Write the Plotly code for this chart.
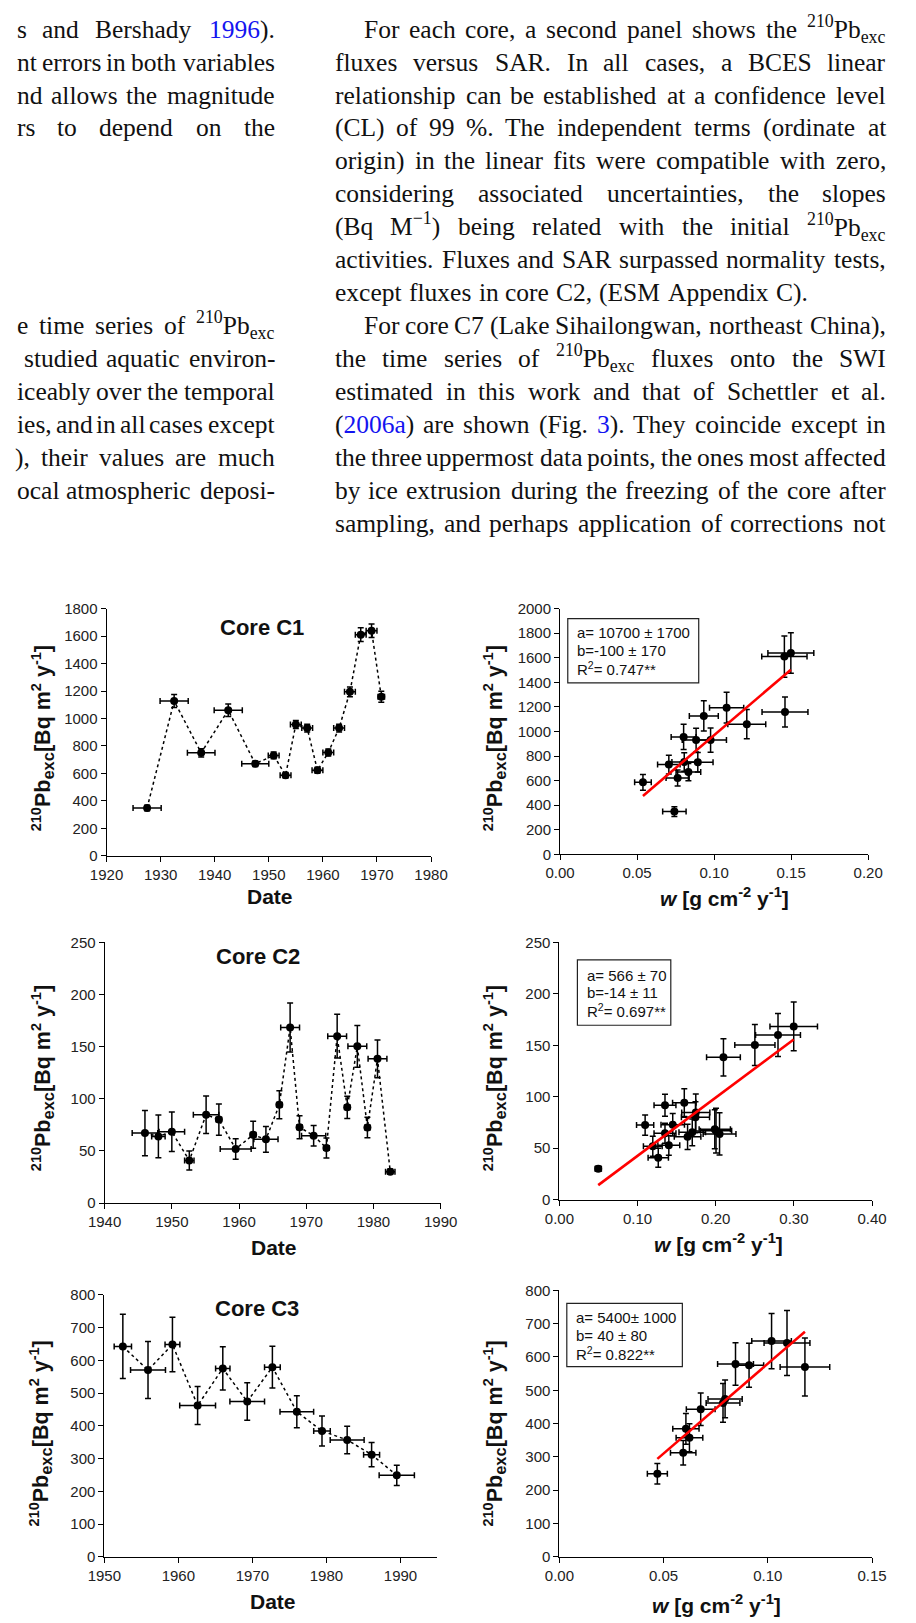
import re
import plotly.graph_objects as go

# ---------------- data ----------------
# Core C1
c1_year = [1927.5, 1932.5, 1937.5, 1942.5, 1947.5, 1950.9, 1953.1, 1955.0, 1957.1, 1959.0, 1961.0, 1963.0, 1965.0, 1967.0, 1969.0, 1970.8]
c1_year_err = [2.6, 2.6, 2.55, 2.6, 2.5, 1.0, 1.0, 1.0, 1.0, 1.0, 1.0, 1.0, 1.0, 1.0, 1.0, 0.6]
c1_flux = [348, 1127, 750, 1060, 670, 731, 586, 956, 930, 622, 752, 930, 1194, 1610, 1639, 1158]
c1_flux_err = [20, 48, 30, 45, 20, 25, 20, 30, 28, 22, 25, 28, 35, 50, 50, 40]
c1_w = [0.0742, 0.0933, 0.0894, 0.1212, 0.0833, 0.0706, 0.0538, 0.0802, 0.0883, 0.0763, 0.0806, 0.0977, 0.1081, 0.1456, 0.1498, 0.1460]
c1_w_err = [0.0076, 0.0094, 0.0099, 0.0123, 0.0080, 0.0073, 0.0054, 0.0081, 0.0090, 0.0075, 0.0080, 0.0103, 0.0111, 0.0147, 0.0149, 0.0149]
c1_flux_err_w = [40, 123, 80, 120, 70, 76, 64, 102, 97, 65, 75, 98, 125, 168, 165, 122]
c1_fit = (10700, -100)
c1_fit_text = ["a= 10700 ± 1700", "b=-100 ± 170", "R<sup>2</sup>= 0.747**"]

# Core C2
c2_year = [1946.0, 1948.0, 1950.0, 1952.6, 1955.1, 1957.0, 1959.5, 1962.1, 1964.0, 1966.0, 1967.6, 1969.0, 1971.1, 1973.0, 1974.6, 1976.1, 1977.6, 1979.1, 1980.6, 1982.5]
c2_year_err = [1.9, 1.0, 1.9, 0.7, 1.9, 0.4, 2.3, 0.4, 1.8, 0.4, 1.4, 0.4, 1.8, 0.4, 1.4, 0.4, 1.4, 0.4, 1.4, 0.7]
c2_flux = [67.1, 63.9, 68.4, 40.8, 84.8, 80.1, 51.9, 65.5, 61.1, 94.3, 168.4, 72.8, 64.6, 52.8, 160.1, 91.8, 150.3, 72.5, 138.3, 30.1]
c2_flux_err = [21.8, 20.5, 19.0, 9.2, 18.0, 15.0, 9.8, 13.0, 12.3, 13.5, 23.6, 11.0, 9.8, 9.5, 20.9, 10.6, 20.0, 9.8, 18.0, 2.5]
c2_w = [0.2004, 0.2049, 0.1988, 0.1265, 0.1745, 0.1741, 0.1195, 0.1700, 0.1640, 0.1598, 0.2998, 0.1450, 0.1351, 0.1400, 0.2797, 0.1351, 0.2501, 0.1097, 0.2099, 0.0497]
c2_w_err = [0.020, 0.021, 0.020, 0.013, 0.018, 0.018, 0.012, 0.017, 0.017, 0.015, 0.0304, 0.015, 0.014, 0.014, 0.0287, 0.014, 0.0257, 0.011, 0.0216, 0.004]
c2_fit = (566, -14)
c2_fit_text = ["a= 566 ± 70", "b=-14 ± 11", "R<sup>2</sup>= 0.697**"]

# Core C3
c3_year = [1952.5, 1955.9, 1959.2, 1962.6, 1966.0, 1969.3, 1972.7, 1976.0, 1979.4, 1982.8, 1986.1, 1989.5]
c3_year_err = [1.17, 2.36, 1.0, 2.42, 0.97, 2.34, 1.06, 2.27, 1.12, 2.29, 1.08, 2.38]
c3_flux = [642, 570, 648, 462, 575, 474, 579, 443, 384, 357, 312, 249]
c3_flux_err = [98, 87, 83, 58, 66, 57, 64, 49, 46, 42, 37, 31]
c3_w = [0.1092, 0.1178, 0.1018, 0.0785, 0.0910, 0.0795, 0.0845, 0.0678, 0.0607, 0.0624, 0.0594, 0.0470]
c3_w_err = [0.011, 0.0119, 0.0095, 0.0081, 0.0070, 0.0082, 0.0086, 0.0069, 0.0063, 0.0064, 0.0061, 0.0048]
c3_fit = (5400, 40)
c3_fit_text = ["a= 5400± 1000", "b= 40 ± 80", "R<sup>2</sup>= 0.822**"]

core_titles = ["Core C1", "Core C2", "Core C3"]
ts_xrange = [[1920, 1980], [1940, 1990], [1950, 1995]]
ts_yrange = [[0, 1800], [0, 250], [0, 800]]
ts_ydtick = [200, 50, 100]
sc_xrange = [[0, 0.20], [0, 0.40], [0, 0.15]]
sc_xdtick = [0.05, 0.10, 0.05]
sc_yrange = [[0, 2000], [0, 250], [0, 800]]
sc_ydtick = [200, 50, 100]

left_lines = [
    (0, 0, "s and Bershady {1996})."),
    (1, 0, "nt errors in both variables"),
    (2, 0, "nd allows the magnitude"),
    (3, 0, "rs to depend on the"),
    (9, 0, "e time series of <sup>210</sup>Pb<sub>exc</sub>"),
    (10, 7, "studied aquatic environ-"),
    (11, 0, "iceably over the temporal"),
    (12, 0, "ies, and in all cases except"),
    (13, -2, "), their values are much"),
    (14, 0, "ocal atmospheric deposi-"),
]
right_lines = [
    (360, True, "For each core, a second panel shows the <sup>210</sup>Pb<sub>exc</sub>"),
    (330, True, "fluxes versus SAR. In all cases, a BCES linear"),
    (330, True, "relationship can be established at a confidence level"),
    (330, True, "(CL) of 99 %. The independent terms (ordinate at"),
    (330, True, "origin) in the linear fits were compatible with zero,"),
    (330, True, "considering associated uncertainties, the slopes"),
    (330, True, "(Bq M<sup>−1</sup>) being related with the initial <sup>210</sup>Pb<sub>exc</sub>"),
    (330, True, "activities. Fluxes and SAR surpassed normality tests,"),
    (330, False, "except fluxes in core C2, (ESM Appendix C)."),
    (360, True, "For core C7 (Lake Sihailongwan, northeast China),"),
    (330, True, "the time series of <sup>210</sup>Pb<sub>exc</sub> fluxes onto the SWI"),
    (330, True, "estimated in this work and that of Schettler et al."),
    (330, True, "({2006a}) are shown (Fig. {3}). They coincide except in"),
    (330, True, "the three uppermost data points, the ones most affected"),
    (330, True, "by ice extrusion during the freezing of the core after"),
    (330, True, "sampling, and perhaps application of corrections not"),
]

# ---------------- geometry helpers ----------------
W, H = 916, 1623


def fx(x):
    return x / W


def fy(y):
    return 1 - y / H


SANS = "Liberation Sans, Arial, sans-serif"
SERIF = "Liberation Serif, Times New Roman, serif"
BODY_SIZE = 25.5
WIDTH_FACTOR = 1.055
LINE0 = 20.4
LINE_STEP = 33.27

TIMES = {' ': 250, '!': 333, '"': 408, '#': 500, '$': 500, '%': 833, '&': 778, "'": 333, '(': 333, ')': 333,
         '*': 500, '+': 564, ',': 250, '-': 333, '.': 250, '/': 278, ':': 278, ';': 278, '<': 564, '=': 564,
         '>': 564, '?': 444, '@': 921, '[': 333, ']': 333, '−': 564}
for d in '0123456789':
    TIMES[d] = 500
TIMES.update(dict(zip('ABCDEFGHIJKLMNOPQRSTUVWXYZ',
                      [722, 667, 667, 722, 611, 556, 722, 722, 333, 389, 722, 611, 889, 722, 722, 556, 722, 667,
                       556, 611, 722, 722, 944, 722, 722, 611])))
TIMES.update(dict(zip('abcdefghijklmnopqrstuvwxyz',
                      [444, 500, 444, 500, 444, 333, 500, 500, 278, 278, 500, 278, 778, 500, 500, 500, 500, 333,
                       389, 278, 500, 500, 722, 500, 500, 444])))


def text_width(s, size=BODY_SIZE):
    total = 0.0
    scale = 1.0
    for t in re.split(r'(<[^>]+>)', s):
        if t.startswith('<'):
            if t in ('<sup>', '<sub>'):
                scale = 0.7
            elif t in ('</sup>', '</sub>'):
                scale = 1.0
            continue
        for ch in t:
            total += TIMES.get(ch, 500) * scale
    return total * size / 1000.0 * WIDTH_FACTOR


def blue(s):
    return re.sub(r'\{([^}]*)\}', r'<span style="color:#1414f0">\1</span>', s)


annotations = []


def word_ann(x, y, txt, anchor):
    ys = 0
    if '<sup>' in txt and '<sub>' not in txt:
        ys = 2
    elif '<sub>' in txt and '<sup>' not in txt:
        ys = -2
    annotations.append(dict(x=fx(x), y=fy(y), xref='paper', yref='paper', text=txt, showarrow=False,
                            xanchor=anchor, yanchor='middle', borderpad=0, borderwidth=0, yshift=ys,
                            font=dict(family=SERIF, size=BODY_SIZE, color='#111111')))


def place_line(left, right, yc, text, justify):
    words = [blue(w) for w in text.split(' ')]
    widths = [text_width(w) for w in words]
    n = len(words)
    if justify and n > 1:
        gap = (right - left - sum(widths)) / (n - 1)
    else:
        gap = 0.25 * BODY_SIZE * 1.05
    x = left
    for k, (w, wd) in enumerate(zip(words, widths)):
        if justify and n > 1 and k == n - 1:
            word_ann(right, yc, w, 'right')
        else:
            word_ann(x, yc, w, 'left')
        x += wd + gap


for idx, left, txt in left_lines:
    place_line(left, 268, LINE0 + LINE_STEP * idx, txt, True)
for i, (left, just, txt) in enumerate(right_lines):
    place_line(left, 903, LINE0 + LINE_STEP * i, txt, just)

# ---------------- panels ----------------
ts_dom = [((93, 430), (606, 855.7)), ((91, 440), (943.3, 1206.7)), ((90.7, 436.7), (1299.3, 1564.3))]
sc_dom = [((564, 884), (606, 854.3)), ((563.3, 888), (943.3, 1203.3)), ((563.3, 888), (1295, 1564))]
title_pos = [(254, 625), (250, 958), (249, 1313)]
ts_ytitle = [(27, 737), (27, 1080.5), (25, 1439.5)]
sc_ytitle = [(496, 737.5), (496, 1081), (496, 1440)]
ts_xtitle = [(263, 897), (267, 1251.7), (265.7, 1609)]
sc_xtitle = [(735, 897), (729, 1246.7), (726.5, 1611.7)]
box_rect = [((572, 708), (616, 681)), ((582, 679), (961, 1027)), ((571, 691), (1308, 1372))]
box_text = [(581, (630, 648, 666)), (591, (977, 994, 1012)), (580, (1322, 1341, 1359))]

years = [c1_year, c2_year, c3_year]
years_err = [c1_year_err, c2_year_err, c3_year_err]
fluxes = [c1_flux, c2_flux, c3_flux]
fluxes_err = [c1_flux_err, c2_flux_err, c3_flux_err]
fluxes_err_w = [c1_flux_err_w, c2_flux_err, c3_flux_err]
ws = [c1_w, c2_w, c3_w]
ws_err = [c1_w_err, c2_w_err, c3_w_err]
fits = [c1_fit, c2_fit, c3_fit]
fit_texts = [c1_fit_text, c2_fit_text, c3_fit_text]

fig = go.Figure()
layout_axes = {}
shapes = []


def sz(t, s):
    return f'<span style="font-size:{s}px">{t}</span>'


YT = ("<b><sup>" + sz("210", 14.5) + "</sup>Pb<sub>" + sz("exc", 16.5) + "</sub>[Bq m<sup>" + sz("2", 14.5)
      + "</sup> y<sup>" + sz("-1", 14.5) + "</sup>]</b>")
XT_W = "<b><i>w</i> [g cm<sup>-2</sup> y<sup>-1</sup>]</b>"


def axis_common():
    return dict(showline=True, linecolor='black', linewidth=1, ticks='outside', ticklen=5, tickwidth=1,
                tickcolor='black', showgrid=False, zeroline=False, fixedrange=True,
                tickfont=dict(family=SANS, size=15, color='#222222'))


ebar = dict(type='data', color='black', thickness=1.5, width=3, visible=True)


def axname(prefix, k):
    return prefix if k == 1 else f'{prefix}{k}'


for i in range(3):
    # time-series panel
    a = 2 * i + 1
    xa, ya = axname('x', a), axname('y', a)
    fig.add_trace(go.Scatter(
        x=years[i], y=fluxes[i], mode='lines+markers', xaxis=xa, yaxis=ya, showlegend=False,
        line=dict(color='black', dash='dot', width=1.5), marker=dict(color='black', size=8),
        error_x=dict(ebar, array=years_err[i]), error_y=dict(ebar, array=fluxes_err[i]), cliponaxis=False))
    (x0, x1), (y0, y1) = ts_dom[i]
    xd = axis_common()
    xd.update(domain=[fx(x0), fx(x1)], range=ts_xrange[i], dtick=10, tick0=ts_xrange[i][0], anchor=ya)
    yd = axis_common()
    yd.update(domain=[fy(y1), fy(y0)], range=ts_yrange[i], dtick=ts_ydtick[i], tick0=0, anchor=xa)
    layout_axes[axname('xaxis', a)] = xd
    layout_axes[axname('yaxis', a)] = yd
    tx, ty = title_pos[i]
    annotations.append(dict(x=fx(tx), y=fy(ty), xref='paper', yref='paper', text=f"<b>{core_titles[i]}</b>",
                            showarrow=False, xanchor='center', yanchor='middle',
                            font=dict(family=SANS, size=22, color='#111111')))
    tx, ty = ts_ytitle[i]
    annotations.append(dict(x=fx(tx), y=fy(ty), xref='paper', yref='paper', text=YT, textangle=-90,
                            showarrow=False, xanchor='center', yanchor='middle',
                            font=dict(family=SANS, size=21.5, color='#111111')))
    tx, ty = ts_xtitle[i]
    annotations.append(dict(x=fx(tx), y=fy(ty), xref='paper', yref='paper', text="<b>Date</b>",
                            showarrow=False, xanchor='center', yanchor='middle',
                            font=dict(family=SANS, size=21, color='#111111')))

    # scatter panel
    b = 2 * i + 2
    xb, yb = axname('x', b), axname('y', b)
    fig.add_trace(go.Scatter(
        x=ws[i], y=fluxes[i], mode='markers', xaxis=xb, yaxis=yb, showlegend=False,
        marker=dict(color='black', size=8),
        error_x=dict(ebar, array=ws_err[i]), error_y=dict(ebar, array=fluxes_err_w[i]), cliponaxis=False))
    slope, icpt = fits[i]
    wl = [min(ws[i]), max(ws[i])]
    fig.add_trace(go.Scatter(x=wl, y=[slope * v + icpt for v in wl], mode='lines', xaxis=xb, yaxis=yb,
                             showlegend=False, line=dict(color='#ff0000', width=2.6)))
    (x0, x1), (y0, y1) = sc_dom[i]
    xd = axis_common()
    xd.update(domain=[fx(x0), fx(x1)], range=sc_xrange[i], dtick=sc_xdtick[i], tick0=0, tickformat='.2f',
              anchor=yb)
    yd = axis_common()
    yd.update(domain=[fy(y1), fy(y0)], range=sc_yrange[i], dtick=sc_ydtick[i], tick0=0, anchor=xb)
    layout_axes[axname('xaxis', b)] = xd
    layout_axes[axname('yaxis', b)] = yd
    tx, ty = sc_ytitle[i]
    annotations.append(dict(x=fx(tx), y=fy(ty), xref='paper', yref='paper', text=YT, textangle=-90,
                            showarrow=False, xanchor='center', yanchor='middle',
                            font=dict(family=SANS, size=21.5, color='#111111')))
    tx, ty = sc_xtitle[i]
    annotations.append(dict(x=fx(tx), y=fy(ty), xref='paper', yref='paper', text=XT_W,
                            showarrow=False, xanchor='center', yanchor='middle',
                            font=dict(family=SANS, size=21, color='#111111')))
    (bx0, bx1), (by0, by1) = box_rect[i]
    shapes.append(dict(type='rect', xref='paper', yref='paper', x0=fx(bx0), x1=fx(bx1), y0=fy(by1), y1=fy(by0),
                       line=dict(color='#222222', width=1.2), fillcolor='rgba(0,0,0,0)', layer='above'))
    lx, lys = box_text[i]
    for t, ly in zip(fit_texts[i], lys):
        annotations.append(dict(x=fx(lx), y=fy(ly), xref='paper', yref='paper', text=t, showarrow=False,
                                xanchor='left', yanchor='middle', borderpad=0,
                                font=dict(family=SANS, size=15, color='#111111')))

fig.update_layout(
    width=W, height=H, autosize=False,
    margin=dict(l=0, r=0, t=0, b=0, pad=0),
    paper_bgcolor='white', plot_bgcolor='white',
    font=dict(family=SANS, color='#111111'),
    annotations=annotations, shapes=shapes,
    showlegend=False,
    **layout_axes,
)

fig.write_html("out.html", config={'displayModeBar': False, 'staticPlot': True},
               post_script="document.body.style.margin='0px';")
